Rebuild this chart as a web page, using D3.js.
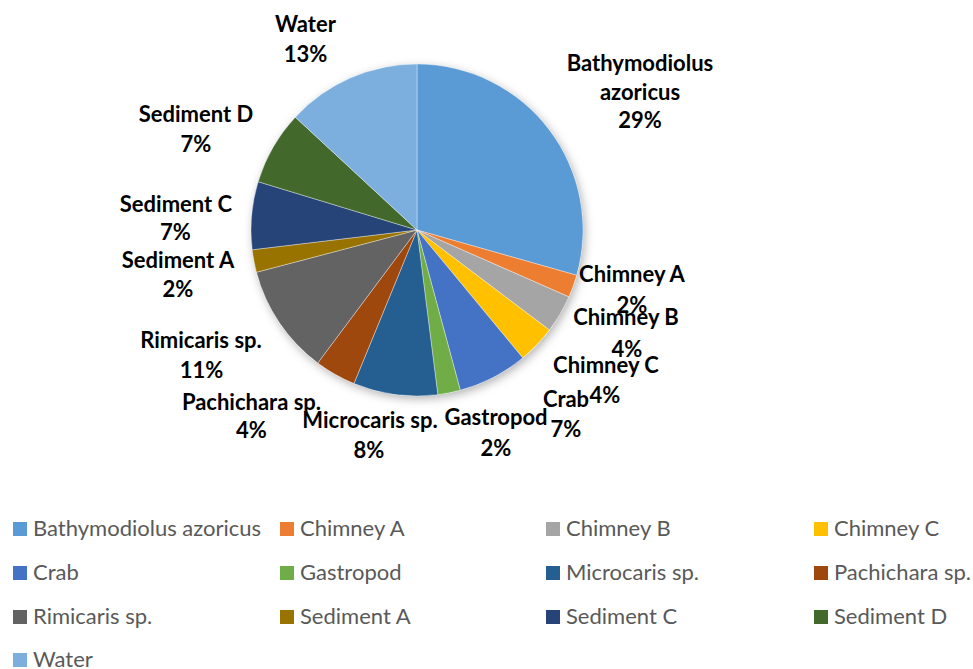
<!DOCTYPE html>
<html><head><meta charset="utf-8">
<script src="https://cdn.jsdelivr.net/npm/d3@7"></script>
<style>
html,body{margin:0;padding:0;background:#fff;}
svg{display:block;}
</style></head>
<body>
<svg id="chart" width="973" height="669"></svg>
<script>
const categories = ["Bathymodiolus azoricus","Chimney A","Chimney B","Chimney C","Crab","Gastropod","Microcaris sp.","Pachichara sp.","Rimicaris sp.","Sediment A","Sediment C","Sediment D","Water"];
const values = [29.4, 2.2, 3.7, 3.7, 6.8, 2.2, 8.2, 4.0, 10.7, 2.2, 6.6, 7.2, 13.1];
const colors = ["#5B9BD5","#ED7D31","#A5A5A5","#FFC000","#4472C4","#70AD47","#255E91","#9E480E","#636363","#997300","#264478","#43682B","#7CAFDD"];
// label lines (category name split as in the reference)
const labelLines = [["Bathymodiolus","azoricus"],["Chimney A"],["Chimney B"],["Chimney C"],["Crab"],["Gastropod"],["Microcaris sp."],["Pachichara sp."],["Rimicaris sp."],["Sediment A"],["Sediment C"],["Sediment D"],["Water"]];

// layout of data labels: name center x, first baseline y, percent center x, percent baseline y
const labelLayout = [
  {x:640,y:71,px:640,py:128},
  {x:632,y:282,px:632,py:313},
  {x:626,y:325,px:627,py:357},
  {x:606,y:373,px:605,py:403},
  {x:566,y:407,px:566,py:437},
  {x:496,y:425,px:496,py:456},
  {x:370,y:428,px:369,py:458},
  {x:251.5,y:410,px:251.5,py:438},
  {x:201,y:348,px:201.5,py:378},
  {x:178,y:268,px:178,py:297},
  {x:176,y:212,px:175.5,py:240},
  {x:196,y:122,px:196,py:152},
  {x:305.5,y:32,px:305.5,py:62}
];

const svg = d3.select("#chart");
const cx = 417, cy = 230, R = 166;
const total = d3.sum(values);
const fmt = d3.format(".0%");

const defs = svg.append("defs");
const f = defs.append("filter").attr("id","sh").attr("x","-20%").attr("y","-20%").attr("width","140%").attr("height","140%");
f.append("feDropShadow").attr("dx",2).attr("dy",3).attr("stdDeviation",5).attr("flood-color","#000").attr("flood-opacity",0.3);

const data = categories.map((c,i)=>({cat:c,value:values[i],color:colors[i],i}));
const pie = d3.pie().value(d=>d.value).sort(null);
const arc = d3.arc().innerRadius(0).outerRadius(R);
const arcs = pie(data);

const g = svg.append("g").attr("transform",`translate(${cx},${cy})`);
g.append("circle").attr("r",R).attr("fill","#fff").attr("filter","url(#sh)");
g.selectAll("path").data(arcs).join("path")
  .attr("d",arc).attr("fill",d=>d.data.color)
  .attr("stroke","#fff").attr("stroke-width",0.6).attr("stroke-opacity",0.6);

// data labels
const lab = svg.append("g").attr("font-family","Lato, 'Open Sans', sans-serif").attr("font-weight","bold").attr("font-size","22px").attr("fill","#000").attr("text-anchor","middle");
arcs.forEach((a,i)=>{
  const L = labelLayout[i];
  const lines = labelLines[i];
  const step = lines.length > 1 ? (L.py - L.y)/lines.length : 0;
  lines.forEach((ln,k)=>{
    lab.append("text").attr("x",L.x).attr("y",L.y+k*step).text(ln);
  });
  lab.append("text").attr("x",L.px).attr("y",L.py).text(fmt(a.data.value/total));
});

// legend
const colX = [13,280,546,814];
const rowY = [529,573,617,660];
const leg = svg.append("g").attr("font-family","Lato, 'Open Sans', sans-serif").attr("font-size","22px").attr("fill","#595959");
data.forEach((d,i)=>{
  const x = colX[i%4], y = rowY[Math.floor(i/4)];
  leg.append("rect").attr("x",x).attr("y",y-7).attr("width",14).attr("height",14).attr("fill",d.color);
  leg.append("text").attr("x",x+20).attr("y",y).attr("dy","0.33em").text(d.cat);
});
</script>
</body></html>
